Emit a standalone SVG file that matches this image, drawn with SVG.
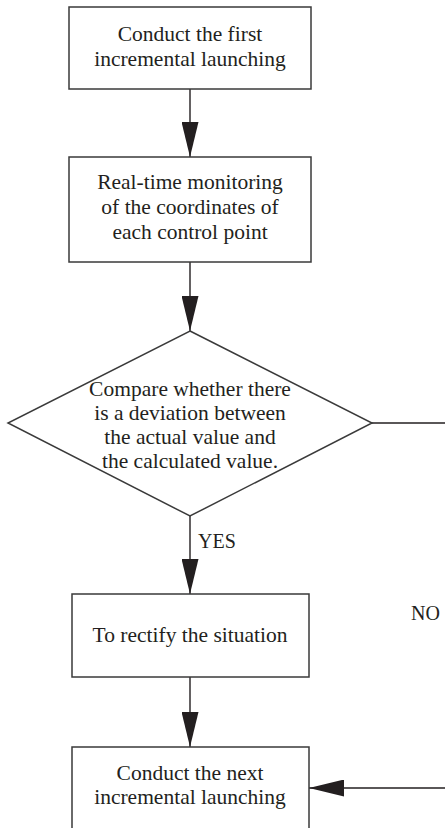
<svg xmlns="http://www.w3.org/2000/svg" width="445" height="828" viewBox="0 0 445 828">
<style>
.box{fill:#fff;stroke:#3a3a3a;stroke-width:1.5}
.ln{fill:none;stroke:#231f20;stroke-width:1.4}
.t{font-family:"Liberation Serif","Times New Roman",serif;font-size:21.5px;fill:#231f20;text-anchor:middle}
.lbl{font-family:"Liberation Serif","Times New Roman",serif;font-size:20px;fill:#231f20}
</style>
<defs>
<marker id="ah" markerUnits="userSpaceOnUse" markerWidth="35" markerHeight="17" refX="35" refY="8.5" orient="auto">
<path d="M0,0 L35,8.5 L0,17 Z" fill="#231f20"/>
</marker>
</defs>
<rect width="445" height="828" fill="#fff"/>
<g id="connectors">
<line class="ln" x1="190" y1="89" x2="190" y2="157" marker-end="url(#ah)"/>
<line class="ln" x1="190" y1="262" x2="190" y2="331" marker-end="url(#ah)"/>
<line class="ln" x1="190" y1="516" x2="190" y2="594" marker-end="url(#ah)"/>
<line class="ln" x1="190" y1="677" x2="190" y2="747" marker-end="url(#ah)"/>
<line class="ln" x1="372" y1="423" x2="446" y2="423"/>
<line class="ln" x1="446" y1="788" x2="309" y2="788" marker-end="url(#ah)"/>
<text class="lbl" x="198" y="548">YES</text>
<text class="lbl" x="411" y="620">NO</text>
</g>
<g id="n1">
<rect class="box" x="69" y="7" width="242" height="82"/>
<text class="t" x="190" y="41">Conduct the first</text>
<text class="t" x="190" y="66">incremental launching</text>
</g>
<g id="n2">
<rect class="box" x="69" y="157" width="242" height="105"/>
<text class="t" x="190" y="189">Real-time monitoring</text>
<text class="t" x="190" y="214">of the coordinates of</text>
<text class="t" x="190" y="239">each control point</text>
</g>
<g id="n3">
<polygon class="box" points="190,331 372,423 190,516 8,423"/>
<text class="t" x="190" y="396">Compare whether there</text>
<text class="t" x="190" y="420">is a deviation between</text>
<text class="t" x="190" y="444">the actual value and</text>
<text class="t" x="190" y="468">the calculated value.</text>
</g>
<g id="n4">
<rect class="box" x="72" y="594" width="237" height="83"/>
<text class="t" x="190" y="642">To rectify the situation</text>
</g>
<g id="n5">
<rect class="box" x="72" y="747" width="237" height="90"/>
<text class="t" x="190" y="780">Conduct the next</text>
<text class="t" x="190" y="804">incremental launching</text>
</g>
</svg>
